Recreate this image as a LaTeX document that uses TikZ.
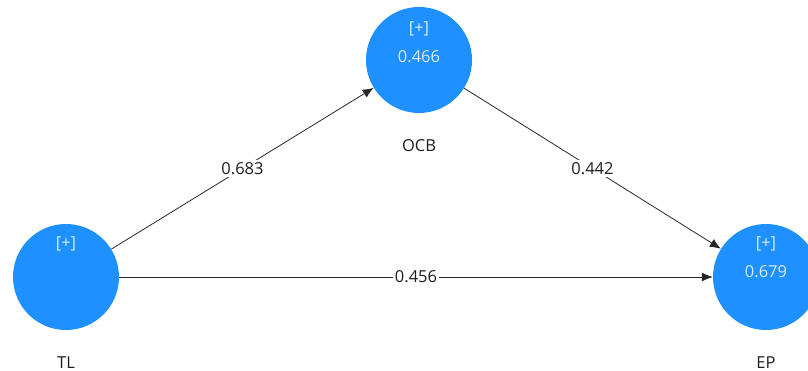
\documentclass[tikz,border=0pt]{standalone}
\usepackage{fontspec}
\setmainfont{Open Sans}
\usetikzlibrary{arrows.meta,positioning}

\definecolor{plsblue}{RGB}{30,144,255}
\definecolor{plstext}{RGB}{215,235,255}
\definecolor{pathtext}{RGB}{30,30,30}

\tikzset{
  latent/.style={circle, fill=plsblue, minimum size=106pt, inner sep=0pt},
  intext/.style={text=plstext, font=\fontsize{16.5}{19}\selectfont, inner sep=1pt},
  lvname/.style={text=pathtext, font=\fontsize{16.5}{19}\selectfont},
  pathcoef/.style={fill=white, text=pathtext, font=\fontsize{16.5}{19}\selectfont, inner sep=2pt},
  pathline/.style={draw=black!85, line width=0.8pt, -{Latex[length=11pt,width=9pt]}}
}

\begin{document}
\begin{tikzpicture}[x=1pt,y=1pt]
\useasboundingbox (0,0) rectangle (808,371);
%
\node[latent] (tl) at (66,94) {};
\node[intext] (tlplus) at ([yshift=33pt]tl.center) {[+]};
\node[lvname, below=23pt of tl] (tlname) {TL};
%
\node[latent] (ocb) at (419,311) {};
\node[intext] (ocbplus) at ([yshift=31pt]ocb.center) {[+]};
\node[intext] (ocbr2) at ([yshift=3pt]ocb.center) {0.466};
\node[lvname, below=23pt of ocb] (ocbname) {OCB};
%
\node[latent] (ep) at (766,94) {};
\node[intext] (epplus) at ([yshift=33pt]ep.center) {[+]};
\node[intext] (epr2) at ([yshift=5pt]ep.center) {0.679};
\node[lvname, below=23pt of ep] (epname) {EP};
%
\draw[pathline] (tl) -- node[pathcoef] {0.683} (ocb);
\draw[pathline] (ocb) -- node[pathcoef] {0.442} (ep);
\draw[pathline] (tl) -- node[pathcoef] {0.456} (ep);
\end{tikzpicture}
\end{document}
